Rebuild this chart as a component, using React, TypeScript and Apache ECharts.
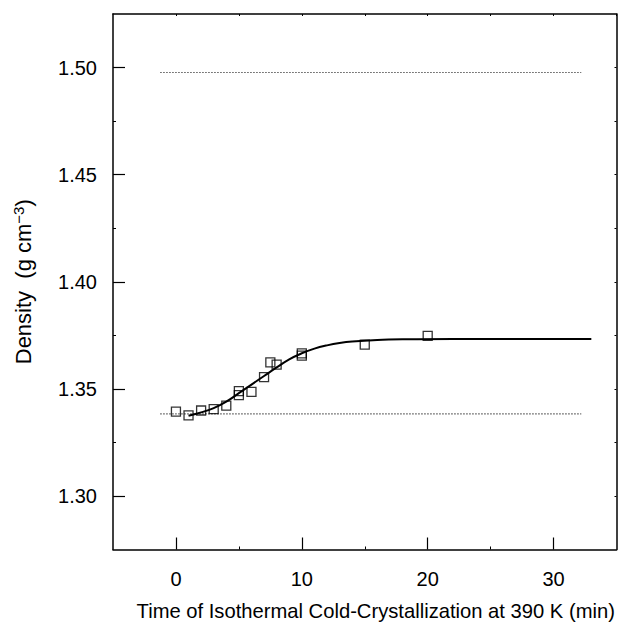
import React, { useEffect, useRef } from "react";
import * as echarts from "echarts";

// Measured data points: time (min), density (g cm^-3)
const pointTimes = [0, 1, 2, 3, 4, 5, 5, 6, 7, 7.5, 8, 10, 10, 15, 20];
const pointDensities = [1.3394, 1.3376, 1.3399, 1.3405, 1.3422, 1.3471, 1.3489, 1.3486, 1.3555, 1.3624, 1.3613, 1.3666, 1.3655, 1.3706, 1.3747];

// Fitted curve
const curveTimes = [1, 2, 3, 4, 5, 6, 7, 8, 9, 10, 11, 12, 13, 14, 16, 18, 22, 33];
const curveDensities = [1.3374, 1.339, 1.341, 1.344, 1.348, 1.352, 1.356, 1.36, 1.3638, 1.3666, 1.3688, 1.3703, 1.3714, 1.3721, 1.3728, 1.3731, 1.3733, 1.3733];

// Reference (dotted) levels
const refStartTime = -1.25;
const refEndTime = 32.2;
const upperLevel = 1.4977;
const lowerLevel = 1.3383;

// Tick values
const xMajorTicks = [0, 10, 20, 30];
const xMinorTicks = [5, 15, 25];
const xTopTicks = [0, 5, 10, 15, 20, 25, 30, 35];
const yMajorTicks = [1.3, 1.35, 1.4, 1.45, 1.5];
const yMinorTicks = [1.325, 1.375, 1.425, 1.475];
const yRightTicks = [1.3, 1.325, 1.35, 1.375, 1.4, 1.425, 1.45, 1.475, 1.5];

const X_MIN = -5;
const X_MAX = 35;
const Y_MIN = 1.275;
const Y_MAX = 1.525;

export default function App() {
  const ref = useRef<HTMLDivElement>(null);
  useEffect(() => {
    if (!ref.current) return;
    const chart = echarts.init(ref.current, null, { renderer: "svg" });
    const font = "'Liberation Sans', Arial, Helvetica, sans-serif";
    const hidden = { show: false };
    chart.setOption({
      animation: false,
      backgroundColor: "#ffffff",
      grid: { left: 113, right: 3.5, top: 14, bottom: 76.5, containLabel: false },
      xAxis: [
        {
          type: "value",
          position: "bottom",
          min: X_MIN,
          max: X_MAX,
          axisLine: { show: true, onZero: false, lineStyle: { color: "#000", width: 1.5 } },
          axisTick: { show: true, inside: true, length: 12, customValues: xMajorTicks, lineStyle: { color: "#000", width: 1.2 } },
          axisLabel: { show: true, customValues: xMajorTicks, margin: 19, fontSize: 20, color: "#000", fontFamily: font },
          splitLine: hidden,
          name: "Time of Isothermal Cold-Crystallization at 390 K (min)",
          nameLocation: "middle",
          nameGap: 51,
          nameTextStyle: { fontSize: 20.2, color: "#000", fontFamily: font, padding: [0, 0, 0, 22] },
        },
        {
          type: "value",
          position: "bottom",
          min: X_MIN,
          max: X_MAX,
          axisLine: { show: false, onZero: false },
          axisTick: { show: true, inside: true, length: 3, customValues: xMinorTicks, lineStyle: { color: "#000", width: 1 } },
          axisLabel: hidden,
          splitLine: hidden,
        },
        {
          type: "value",
          position: "top",
          min: X_MIN,
          max: X_MAX,
          axisLine: { show: true, onZero: false, lineStyle: { color: "#000", width: 1.5 } },
          axisTick: { show: true, inside: true, length: 2, customValues: xTopTicks, lineStyle: { color: "#000", width: 1 } },
          axisLabel: hidden,
          splitLine: hidden,
        },
      ],
      yAxis: [
        {
          type: "value",
          position: "left",
          min: Y_MIN,
          max: Y_MAX,
          axisLine: { show: true, onZero: false, lineStyle: { color: "#000", width: 1.5 } },
          axisTick: { show: true, inside: true, length: 12, customValues: yMajorTicks, lineStyle: { color: "#000", width: 1.2 } },
          axisLabel: {
            show: true,
            customValues: yMajorTicks,
            margin: 16,
            fontSize: 20,
            color: "#000",
            fontFamily: font,
            formatter: (v: number) => v.toFixed(2),
          },
          splitLine: hidden,
          name: "Density  (g cm{sup|−3})",
          nameLocation: "middle",
          nameGap: 77,
          nameRotate: 90,
          nameTextStyle: {
            fontSize: 22,
            color: "#000",
            fontFamily: font,
            rich: {
              sup: { fontSize: 15, color: "#000", fontFamily: font, padding: [0, 0, 10, 0] },
            },
          },
        },
        {
          type: "value",
          position: "left",
          min: Y_MIN,
          max: Y_MAX,
          axisLine: { show: false, onZero: false },
          axisTick: { show: true, inside: true, length: 3, customValues: yMinorTicks, lineStyle: { color: "#000", width: 1 } },
          axisLabel: hidden,
          splitLine: hidden,
        },
        {
          type: "value",
          position: "right",
          min: Y_MIN,
          max: Y_MAX,
          axisLine: { show: true, onZero: false, lineStyle: { color: "#000", width: 1.5 } },
          axisTick: { show: true, inside: true, length: 2, customValues: yRightTicks, lineStyle: { color: "#000", width: 1 } },
          axisLabel: hidden,
          splitLine: hidden,
        },
      ],
      series: [
        {
          type: "line",
          name: "upper",
          data: [[refStartTime, upperLevel], [refEndTime, upperLevel]],
          showSymbol: false,
          lineStyle: { color: "#555", width: 1.2, type: [1.5, 1.5] },
          silent: true,
        },
        {
          type: "line",
          name: "lower",
          data: [[refStartTime, lowerLevel], [refEndTime, lowerLevel]],
          showSymbol: false,
          lineStyle: { color: "#555", width: 1.2, type: [1.5, 1.5] },
          silent: true,
        },
        {
          type: "line",
          name: "fit",
          data: curveTimes.map((t, i) => [t, curveDensities[i]]),
          smooth: 0.4,
          showSymbol: false,
          lineStyle: { color: "#000", width: 2 },
          z: 3,
        },
        {
          type: "scatter",
          name: "data",
          data: pointTimes.map((t, i) => [t, pointDensities[i]]),
          symbol: "rect",
          symbolSize: 9,
          itemStyle: { color: "rgba(255,255,255,0)", borderColor: "#000", borderWidth: 1.3 },
          z: 4,
        },
      ],
    });
    return () => chart.dispose();
  }, []);
  return (
    <div
      ref={ref}
      style={{ position: "absolute", left: 0, top: 0, width: 620, height: 626 }}
    />
  );
}
